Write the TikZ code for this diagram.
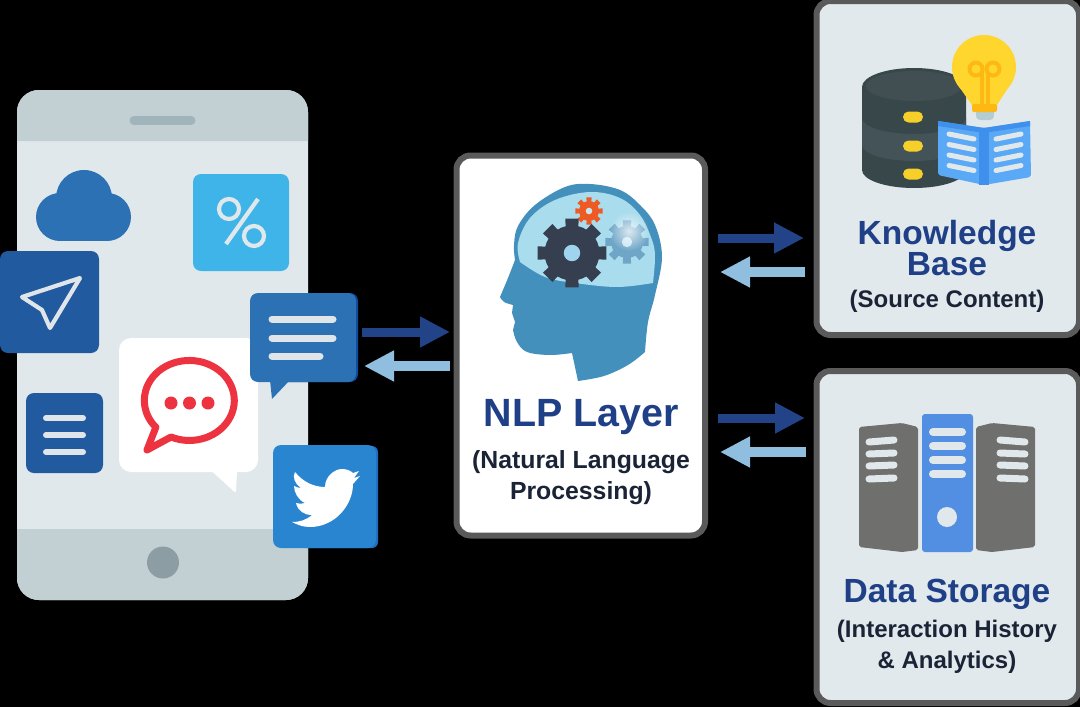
\documentclass[tikz,border=0pt]{standalone}
\usepackage{fontspec}
\setmainfont{Liberation Sans}
\usetikzlibrary{
	arrows.meta,
	fadings,
	calc
}
\definecolor{edgegray}{HTML}{5A5A5A}
\definecolor{panelgray}{HTML}{E2E9ED}
\definecolor{phoneband}{HTML}{C2D0D4}
\definecolor{phonebody}{HTML}{E1E8EB}
\definecolor{speakergray}{HTML}{9FB5BB}
\definecolor{homegray}{HTML}{8C9EA3}
\definecolor{titleblue}{HTML}{1F3F87}
\definecolor{subtext}{HTML}{1B2436}
\definecolor{arrowdark}{HTML}{234389}
\definecolor{arrowlight}{HTML}{8FBEDF}
\definecolor{navyicon}{HTML}{215A9F}
\definecolor{chaticon}{HTML}{2B71B4}
\definecolor{chatedge}{HTML}{0F4AA0}
\definecolor{percenticon}{HTML}{3FB4E8}
\definecolor{birdicon}{HTML}{2A85D0}
\definecolor{birdedge}{HTML}{1F6FC0}
\definecolor{bubblered}{HTML}{EE3340}
\definecolor{headblue}{HTML}{4390BD}
\definecolor{domeblue}{HTML}{A9DCEC}
\definecolor{holeblue}{HTML}{9FD4EE}
\definecolor{geardark}{HTML}{363F50}
\definecolor{gearmid}{HTML}{6FA6C8}
\definecolor{gearhole}{HTML}{C7E6F2}
\definecolor{gearred}{HTML}{EE5A24}
\definecolor{pillgray}{HTML}{DFE5E8}
\definecolor{dbdark}{HTML}{37474A}
\definecolor{dbmid}{HTML}{435358}
\definecolor{dbside}{HTML}{2E3B3E}
\definecolor{dbtop}{HTML}{424F52}
\definecolor{pillyellow}{HTML}{F7CF2A}
\definecolor{bulbyellow}{HTML}{FFD62E}
\definecolor{bulborange}{HTML}{FDB813}
\definecolor{bulbtip}{HTML}{B3CDD3}
\definecolor{bookblue}{HTML}{5AA9F7}
\definecolor{bookedge}{HTML}{3F8FEC}
\definecolor{servergray}{HTML}{6F6F6D}
\definecolor{serverblue}{HTML}{528FE3}
\tikzfading[name=gearglow,inner color=transparent!25,outer color=transparent!100]
\tikzset{
	card box/.style={
		draw=edgegray,
		line width=6pt,
		rounded corners=14pt,
		outer sep=0pt,
		inner sep=0pt
	},
	icon box/.style={
		rounded corners=8pt,
		outer sep=0pt,
		inner sep=0pt
	},
	arrow out/.style={
		draw=arrowdark,
		line width=9pt,
		-{Triangle[length=30pt,width=29pt]}
	},
	arrow back/.style={
		draw=arrowlight,
		line width=10pt,
		-{Triangle[length=30pt,width=29pt]}
	},
	pill/.style={
		line cap=round,
		line width=#1,
		draw=pillgray
	},
	title text/.style={
		text=titleblue,
		font=\bfseries\fontsize{33.5}{31}\selectfont,
		align=center,
		inner sep=0pt
	},
	sub text/.style={
		text=subtext,
		font=\bfseries\fontsize{24}{31}\selectfont,
		align=center,
		inner sep=0pt
	}
}
\newcommand{\gearicon}[6]{
	\fill[#6] (#1,#2) circle (#4);
	\foreach \a in {90,135,...,405}{
		\fill[#6,shift={(#1,#2)}] (\a-14:#4*.95) -- (\a-11:#3) -- (\a+11:#3) -- (\a+14:#4*.95) -- cycle;
	}
	\fill[#5] (#1,#2) circle (#3*.235);
}
\begin{document}
\begin{tikzpicture}[x=1pt,y=-1pt]
	\useasboundingbox (0,0) rectangle (1080,707);
	\fill[black] (0,0) rectangle (1080,707);

	%%%%%%%% phone
	\fill[phonebody,rounded corners=22pt] (17,90) rectangle (308,600);
	\fill[phoneband] (17,141) [rounded corners=22pt] -- (17,90) -- (308,90) [sharp corners] -- (308,141) -- cycle;
	\fill[phoneband] (17,529) [rounded corners=22pt] -- (17,600) -- (308,600) [sharp corners] -- (308,529) -- cycle;
	\draw[line width=9pt,line cap=round,draw=speakergray] (134,120.5) -- (191,120.5);
	\fill[homegray] (163,562.5) circle (16);

	%%%%%%%% icons on the phone
	\fill[chaticon] (60,217) circle (24);
	\fill[chaticon] (84,198) circle (28);
	\fill[chaticon] (107,217) circle (24);
	\fill[chaticon] (60,205) rectangle (107,241);
	\node[icon box,fill=percenticon,minimum width=96pt,minimum height=97pt] (percent) at (241,222.5) {};
	\draw[line width=4.2pt,draw=phonebody] (229,209) circle (10);
	\draw[line width=4.2pt,draw=phonebody] (254,236) circle (10);
	\draw[line width=4.2pt,draw=phonebody] (258,199) -- (226,244);
	\node[icon box,fill=navyicon,minimum width=99pt,minimum height=102pt] (nav) at (49.5,302) {};
	\draw[line width=4.2pt,draw=pillgray,line join=round] (80,278) -- (22,297) -- (42,310) -- (50,328) -- cycle;
	\node[icon box,fill=navyicon,minimum width=77pt,minimum height=80pt] (doc) at (64.5,433) {};
	\foreach \y in {418,435,452}{
		\draw[pill=6pt] (46,\y) -- (83,\y);
	}

	\node[icon box,fill=white,rounded corners=12pt,minimum width=139pt,minimum height=134pt] (bubble) at (188.5,405) {};
	\fill[white,draw=white,line width=2pt,line join=round] (213,471) -- (235,491) -- (236,471) -- cycle;
	\draw[line width=7pt,draw=bubblered,line join=round] (171,437) arc [start angle=114,end angle=-222,x radius=45,y radius=40] -- (147,450) -- cycle;
	\foreach \x in {171,189.5,208}{
		\fill[bubblered] (\x,403) circle (6.5);
	}

	\fill[chatedge,rounded corners=8pt] (272,293) rectangle (358,382);
	\fill[chaticon] (270,380) -- (272,399) -- (290,380) -- cycle;
	\node[icon box,fill=chaticon,minimum width=106pt,minimum height=89pt] (chat) at (303,337.5) {};
	\draw[pill=7pt] (272,319) -- (333,319) (272,338) -- (333,338) (272,356) -- (320,356);

	\fill[birdedge,rounded corners=6pt] (300,446) rectangle (378,548);
	\node[icon box,fill=birdicon,minimum width=103pt,minimum height=103pt] (bird) at (324.5,496.5) {};
	\fill[white] (295,472) .. controls (303,482) and (314,487) .. (325,487)
		.. controls (325,476) and (335,469) .. (342,469)
		.. controls (347,469) and (351,471) .. (353,473)
		-- (359,471) -- (354,478) -- (360,476) -- (353,484)
		.. controls (353,505) and (335,527) .. (310,527)
		.. controls (303,527) and (298,525) .. (292,522)
		.. controls (300,522) and (306,520) .. (312,515)
		.. controls (304,515) and (298,511) .. (296,503)
		.. controls (299,504) and (302,504) .. (305,503)
		.. controls (298,500) and (294,492) .. (294,486)
		.. controls (296,487) and (299,488) .. (301,488)
		.. controls (295,484) and (292,477) .. (295,472) -- cycle;

	%%%%%%%% cards
	\node[card box,fill=white,minimum width=248.5pt,minimum height=380pt] (nlp) at (580.75,345.5) {};
	\node[card box,fill=panelgray,minimum width=262.5pt,minimum height=334pt] (kb) at (947.75,168) {};
	\node[card box,fill=panelgray,minimum width=262.5pt,minimum height=332pt] (store) at (947.75,537) {};

	%%%%%%%% head
	\fill[headblue] plot[smooth,tension=.6] coordinates {(578,381) (604,376) (628,365) (645,352)}
		-- plot[smooth,tension=.6] coordinates {(645,352) (648,322) (655,295) (662,257) (655,225) (640,205) (620,190) (590,184) (565,187) (535,205) (518,226) (514,245) (515,260)}
		-- plot[smooth,tension=.6] coordinates {(515,260) (508,278) (500,297)}
		-- plot[smooth,tension=.6] coordinates {(500,297) (504,302) (513,305)}
		-- (512,313) -- (515,322) -- (513,330)
		-- plot[smooth,tension=.6] coordinates {(513,330) (517,342) (527,352) (550,355) (572,353)}
		-- cycle;
	\fill[domeblue] plot[smooth,tension=.6] coordinates {(520,262) (518,243) (530,218) (555,200) (590,192) (620,198) (640,215) (652,240) (655,257) (653,283)}
		-- plot[smooth,tension=.6] coordinates {(653,283) (617,287) (575,283) (545,277) (520,262)}
		-- cycle;
	\gearicon{627}{242}{22}{16}{gearhole}{gearmid}
	\fill[white,path fading=gearglow] (629,231) circle (20);
	\gearicon{589}{211}{14}{10}{gearhole}{gearred}
	\gearicon{572}{253}{35}{27.5}{holeblue}{geardark}

	\node[title text,font=\bfseries\fontsize{39.4}{39}\selectfont] (nlptitle) at (581,417) {NLP Layer};
	\node[sub text,font=\bfseries\fontsize{24.8}{31}\selectfont] (nlpsub) at (581,478) {(Natural Language\\Processing)};

	%%%%%%%% database
	\fill[dbdark] (862,87) -- (862,170) arc [start angle=180,end angle=0,x radius=52,y radius=18] -- (966,87) -- cycle;
	\fill[dbmid] (862,118) arc [start angle=180,end angle=0,x radius=52,y radius=16] -- (966,145) arc [start angle=0,end angle=180,x radius=52,y radius=16] -- cycle;
	\fill[dbdark] (914,87) ellipse [x radius=52,y radius=19];
	\fill[dbtop] (914,86) ellipse [x radius=48,y radius=15];
	\foreach \y in {117,146,174}{
		\fill[pillyellow,rounded corners=5.5pt] (903,\y-5.5) rectangle (923,\y+5.5);
	}

	%%%%%%%% bulb
	\fill[bulbyellow] (984,67) circle (32);
	\fill[bulbyellow] (960,88) -- (974,108) -- (995,108) -- (1008,88) -- cycle;
	\draw[line width=4pt,draw=bulborange] (976,69) circle (6.5);
	\draw[line width=4pt,draw=bulborange] (993,69) circle (6.5);
	\draw[line width=4pt,draw=bulborange] (981.5,105) -- (981.5,72) (988,105) -- (988,72);
	\fill[bulbtip,rounded corners=4pt] (976,108) rectangle (994,120);
	\fill[bulborange,rounded corners=2pt] (972,104) rectangle (997,112);

	%%%%%%%% book
	\fill[bookblue,rounded corners=2pt] (938,121) -- (984,128) -- (1030,121) -- (1031,177) -- (984,185) -- (938,175) -- cycle;
	\fill[bookedge] (938,121) -- (984,128) -- (1030,121) -- (1030,126) -- (984,133) -- (938,126) -- cycle;
	\fill[bookedge] (979,130) rectangle (989,185);
	\foreach \d in {0,10.5,21,31.5}{
		\draw[pill=5pt,draw=phonebody] (949,134+\d) -- (974,139+\d);
		\draw[pill=5pt,draw=phonebody] (996,139+\d) -- (1021,134+\d);
	}

	\node[title text] (kbtitle) at (947,248.5) {Knowledge\\Base};
	\node[sub text] (kbsub) at (947,301) {(Source Content)};

	%%%%%%%% servers
	\fill[servergray,rounded corners=2pt] (859,427) -- (902,423) -- (918,427) -- (918,550) -- (902,552) -- (859,547) -- cycle;
	\fill[servergray,rounded corners=2pt] (1035,427) -- (992,423) -- (976,427) -- (976,550) -- (992,552) -- (1035,547) -- cycle;
	\fill[serverblue,rounded corners=3pt] (922,414) rectangle (973,552);
	\foreach \y in {432,446,460,474}{
		\draw[pill=8pt,draw=phonebody] (933,\y) -- (962,\y);
	}
	\fill[phonebody] (947,517) circle (10);
	\foreach \ya/\yb in {442/440,454/453,466/465,479/478}{
		\draw[pill=7pt,draw=phonebody] (869,\ya) -- (894,\yb);
		\draw[pill=7pt,draw=phonebody] (1025,\ya) -- (1000,\yb);
	}

	\node[title text] (storetitle) at (947,594.5) {Data Storage};
	\node[sub text] (storesub) at (947,647) {(Interaction History\\\& Analytics)};

	%%%%%%%% connectors
	\draw[arrow out,shorten <=6pt,shorten >=6.5pt] (chat.east |- 0,332) -- (nlp.west |- 0,332);
	\draw[arrow back,shorten <=6.5pt,shorten >=8pt] (nlp.west |- 0,366) -- (chat.east |- 0,366);
	\draw[arrow out,shorten <=13pt,shorten >=12.5pt] (nlp.east |- 0,238) -- (kb.west |- 0,238);
	\draw[arrow back,shorten <=11.5pt,shorten >=15pt] (kb.west |- 0,272) -- (nlp.east |- 0,272);
	\draw[arrow out,shorten <=13pt,shorten >=11.5pt] (nlp.east |- 0,418) -- (store.west |- 0,418);
	\draw[arrow back,shorten <=10.5pt,shorten >=15pt] (store.west |- 0,452) -- (nlp.east |- 0,452);
\end{tikzpicture}
\end{document}
